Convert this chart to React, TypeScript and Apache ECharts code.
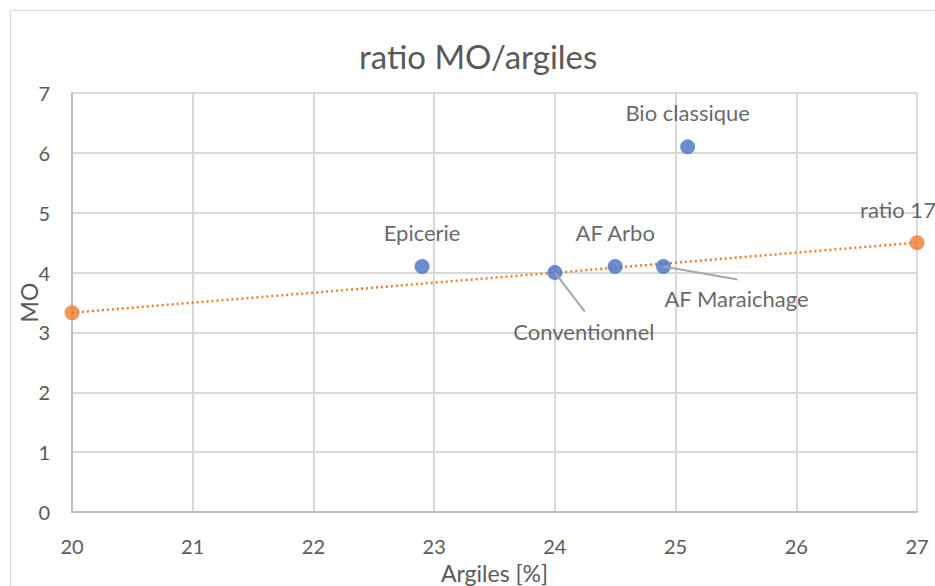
import React, { useEffect, useRef } from "react";
import * as echarts from "echarts";

const pointNames = ["Epicerie", "Conventionnel", "AF Arbo", "AF Maraichage", "Bio classique"];
const argiles = [22.9, 24, 24.5, 24.9, 25.1];
const mo = [4.1, 4.0, 4.1, 4.1, 6.1];

const ratioArgiles = [20, 27];
const ratioMO = [3.33, 4.5];
const ratioNames = ["", "ratio 17"];

const xTicks = [20, 21, 22, 23, 24, 25, 26, 27];
const yTicks = [0, 1, 2, 3, 4, 5, 6, 7];

const FONT = "Lato, 'Open Sans', sans-serif";
const TXT = "#595959";

export default function App() {
  const ref = useRef<HTMLDivElement>(null);
  useEffect(() => {
    if (!ref.current) return;
    const chart = echarts.init(ref.current, undefined, { renderer: "svg" });
    // label offsets (px) and leader-line end offsets (px) for moved labels
    const labelShift: Record<string, [number, number]> = {
      Conventionnel: [29, 59],
      "AF Maraichage": [73, 32],
    };
    const leaderEnd: Record<string, [number, number]> = {
      Conventionnel: [30, 39],
      "AF Maraichage": [74, 13],
    };
    const blueData = pointNames.map((n, i) => {
      const item: any = { name: n, value: [argiles[i], mo[i]] };
      if (labelShift[n]) {
        item.label = { position: "inside" };
      }
      return item;
    });
    const orangeData = ratioNames.map((n, i) => ({
      name: n,
      value: [ratioArgiles[i], ratioMO[i]],
    }));
    chart.setOption({
      animation: false,
      backgroundColor: "#ffffff",
      textStyle: { fontFamily: FONT },
      title: {
        text: "ratio MO/argiles",
        left: 354,
        top: 34,
        textStyle: { fontFamily: FONT, fontSize: 33, fontWeight: "normal", color: TXT },
      },
      grid: { left: 72, right: 18, top: 93, bottom: 74, containLabel: false, outerBoundsMode: "none" },
      xAxis: {
        type: "value",
        min: xTicks[0],
        max: xTicks[xTicks.length - 1],
        interval: 1,
        name: "Argiles [%]",
        nameLocation: "middle",
        nameGap: 49,
        nameTextStyle: { fontFamily: FONT, fontSize: 23, color: TXT },
        axisLine: { show: true, lineStyle: { color: "#bfbfbf", width: 2 } },
        axisTick: { show: false },
        axisLabel: { fontFamily: FONT, fontSize: 20, color: TXT, margin: 24 },
        splitLine: { show: true, lineStyle: { color: "#d9d9d9", width: 2 } },
      },
      yAxis: {
        type: "value",
        min: yTicks[0],
        max: yTicks[yTicks.length - 1],
        interval: 1,
        name: "MO",
        nameLocation: "middle",
        nameGap: 32,
        nameMoveOverlap: false,
        nameTextStyle: { fontFamily: FONT, fontSize: 23, color: TXT },
        axisLine: { show: true, lineStyle: { color: "#bfbfbf", width: 2 } },
        axisTick: { show: false },
        axisLabel: { fontFamily: FONT, fontSize: 20, color: TXT, margin: 22 },
        splitLine: { show: true, lineStyle: { color: "#d9d9d9", width: 2 } },
      },
      series: [
        {
          type: "line",
          data: ratioArgiles.map((x, i) => [x, ratioMO[i]]),
          symbol: "none",
          lineStyle: { color: "#ED7D31", width: 2.5, type: [2, 3] },
          silent: true,
          z: 2,
        },
        {
          type: "scatter",
          data: orangeData,
          symbolSize: 15,
          itemStyle: { color: "#ED7D31" },
          label: {
            show: true,
            position: "top",
            distance: 15,
            offset: [-19, 0],
            formatter: "{b}",
            fontFamily: FONT,
            fontSize: 22,
            color: "#404040",
          },
          z: 3,
        },
        {
          type: "scatter",
          data: blueData,
          symbolSize: 15,
          itemStyle: { color: "#4472C4" },
          label: {
            show: true,
            position: "top",
            distance: 16,
            formatter: "{b}",
            fontFamily: FONT,
            fontSize: 22,
            color: "#404040",
          },
          labelLayout: (params: any) => {
            const n = pointNames[params.dataIndex];
            if (labelShift[n]) return { dx: labelShift[n][0], dy: labelShift[n][1] };
            return {};
          },
          z: 4,
        },
      ],
    });
    const graphics: any[] = [
      {
        type: "rect",
        shape: { x: 10.5, y: 10.5, width: 1000, height: 1000 },
        style: { fill: "none", stroke: "#d9d9d9", lineWidth: 1 },
        silent: true,
        z: 0,
      },
    ];
    pointNames.forEach((n, i) => {
      if (!leaderEnd[n]) return;
      const p = chart.convertToPixel({ gridIndex: 0 }, [argiles[i], mo[i]]) as number[];
      graphics.push({
        type: "line",
        shape: { x1: p[0], y1: p[1], x2: p[0] + leaderEnd[n][0], y2: p[1] + leaderEnd[n][1] },
        style: { stroke: "#a6a6a6", lineWidth: 2 },
        silent: true,
        z: 5,
      });
    });
    chart.setOption({ graphic: graphics });
    return () => chart.dispose();
  }, []);
  return (
    <div
      ref={ref}
      style={{ position: "fixed", left: 0, top: 0, width: 935, height: 586 }}
    />
  );
}
